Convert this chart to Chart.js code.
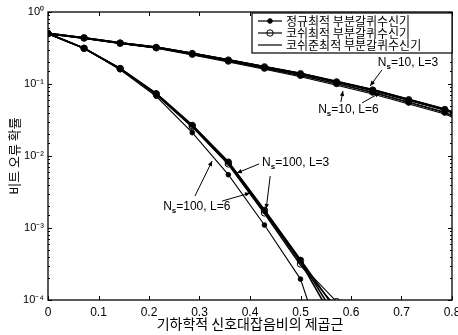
<!DOCTYPE html>
<html><head><meta charset="utf-8">
<script src="https://cdn.jsdelivr.net/npm/chart.js@4/dist/chart.umd.min.js"></script>
<style>html,body{margin:0;padding:0;background:#fff;}#wrap{width:458px;height:335px;}</style>
</head><body><div id="wrap"><canvas id="c" width="458" height="335"></canvas></div>
<script>
// ---- data ----
const xValues = [0, 0.0714, 0.1429, 0.2143, 0.2857, 0.3571, 0.4286, 0.5, 0.5714, 0.6429, 0.7143, 0.7857, 0.8];
const receiverNames = ['정규최적 부분갈퀴수신기', '코쉬최적 부분갈퀴수신기', '코쉬준최적 부분갈퀴수신기'];
// Ns = 10
const ns10L3Normal = [0.501, 0.437, 0.372, 0.324, 0.266, 0.216, 0.174, 0.140, 0.108, 0.0832, 0.0610, 0.0447, 0.0410];
const ns10L3Cauchy = [0.501, 0.436, 0.371, 0.322, 0.265, 0.215, 0.173, 0.139, 0.107, 0.0825, 0.0605, 0.0443, 0.0405];
const ns10L3Sub    = [0.501, 0.437, 0.372, 0.323, 0.265, 0.215, 0.173, 0.139, 0.107, 0.0820, 0.0600, 0.0440, 0.0400];
const ns10L6Normal = [0.501, 0.437, 0.367, 0.316, 0.257, 0.207, 0.164, 0.130, 0.100, 0.0759, 0.0550, 0.0398, 0.0359];
const ns10L6Cauchy = [0.501, 0.437, 0.368, 0.318, 0.259, 0.208, 0.166, 0.132, 0.1016, 0.0773, 0.0561, 0.0407, 0.0367];
const ns10L6Sub    = [0.501, 0.434, 0.365, 0.313, 0.253, 0.202, 0.160, 0.126, 0.0962, 0.0728, 0.0526, 0.0382, 0.0347];
// Ns = 100
const ns100L3Normal = [0.501, 0.313, 0.165, 0.0741, 0.0269, 0.00832, 0.00178, 3.63e-4, 7.08e-5];
const ns100L3Cauchy = [0.501, 0.313, 0.164, 0.0733, 0.0266, 0.00822, 0.00176, 3.55e-4, 5.62e-5];
const ns100L3Sub    = [0.501, 0.313, 0.162, 0.0724, 0.0260, 0.00804, 0.00170, 3.39e-4, 4.47e-5];
const ns100L6Normal = [0.501, 0.313, 0.158, 0.0676, 0.0211, 0.00550, 0.00110, 1.95e-4, 6.3e-6];
const ns100L6Cauchy = [0.501, 0.313, 0.163, 0.0724, 0.0257, 0.00776, 0.00162, 3.16e-4, 9.5e-5];
const ns100L6Sub    = [0.501, 0.313, 0.162, 0.0708, 0.0251, 0.00759, 0.00158, 3.02e-4, 7.9e-5];
const xTickLabels = ['0', '0.1', '0.2', '0.3', '0.4', '0.5', '0.6', '0.7', '0.8'];
const yTickLabels = ['10⁰', '10⁻¹', '10⁻²', '10⁻³', '10⁻⁴'];
const xTitle = '기하학적 신호대잡음비의 제곱근';
const yTitle = '비트 오류 확률';
const annotations = [
  { text: ['N', 's', '=10, L=3'], at: [0.653, 0.196], arrows: [[[0.661, 0.156], [0.638, 0.094]]] },
  { text: ['N', 's', '=10, L=6'], at: [0.535, 0.0435], arrows: [[[0.580, 0.0562], [0.584, 0.080]], [[0.622, 0.0547], [0.657, 0.075]]] },
  { text: ['N', 's', '=100, L=3'], at: [0.424, 0.0080], arrows: [[[0.418, 0.00776], [0.374, 0.0058]], [[0.440, 0.00527], [0.432, 0.00184]]] },
  { text: ['N', 's', '=100, L=6'], at: [0.228, 0.00196], arrows: [[[0.291, 0.00278], [0.325, 0.00853]], [[0.345, 0.00237], [0.400, 0.00306]]] }
];

// ---- styles ----
const styles = [
  { pointRadius: 2.3, pointBackgroundColor: '#000', pointBorderColor: '#000' },
  { pointRadius: 3.2, pointBackgroundColor: 'rgba(0,0,0,0)', pointBorderColor: '#000' },
  { pointRadius: 0, pointBackgroundColor: '#000', pointBorderColor: '#000' }
];
function mk(values, kind, width) {
  const pts = [];
  values.forEach((v, i) => { if (v !== null && v !== undefined) pts.push({ x: xValues[i], y: v }); });
  const s = styles[kind];
  return {
    label: receiverNames[kind], data: pts, kind: kind,
    borderColor: '#000', borderWidth: width, tension: 0, fill: false,
    pointStyle: 'circle', pointBorderWidth: 1,
    pointRadius: ctx => (ctx.raw && ctx.raw.x > 0.79 ? 0 : s.pointRadius),
    pointHoverRadius: 0,
    pointBackgroundColor: s.pointBackgroundColor, pointBorderColor: s.pointBorderColor
  };
}
const datasets = [
  mk(ns10L3Normal, 0, 2), mk(ns10L3Cauchy, 1, 2), mk(ns10L3Sub, 2, 2),
  mk(ns10L6Normal, 0, 1.1), mk(ns10L6Cauchy, 1, 1.1), mk(ns10L6Sub, 2, 1.1),
  mk(ns100L3Normal, 0, 1.6), mk(ns100L3Cauchy, 1, 1.6), mk(ns100L3Sub, 2, 1.6),
  mk(ns100L6Normal, 0, 1.1), mk(ns100L6Cauchy, 1, 1.1), mk(ns100L6Sub, 2, 1.1)
];

// ---- plugins ----
const frame = {
  id: 'frame',
  afterDatasetsDraw(chart) {
    const { ctx, chartArea: a, scales: { x, y } } = chart;
    ctx.save();
    ctx.strokeStyle = '#000'; ctx.lineWidth = 1.3;
    ctx.strokeRect(a.left, a.top, a.right - a.left, a.bottom - a.top);
    ctx.lineWidth = 1;
    ctx.beginPath();
    x.ticks.forEach(t => {
      const px = Math.round(x.getPixelForValue(t.value)) + 0.5;
      ctx.moveTo(px, a.bottom); ctx.lineTo(px, a.bottom - 4);
      ctx.moveTo(px, a.top); ctx.lineTo(px, a.top + 4);
    });
    y.ticks.forEach(t => {
      const e = Math.log10(t.value);
      const major = Math.abs(e - Math.round(e)) < 1e-6;
      const len = major ? 4 : 2;
      const py = Math.round(y.getPixelForValue(t.value)) + 0.5;
      ctx.moveTo(a.left, py); ctx.lineTo(a.left + len, py);
      ctx.moveTo(a.right, py); ctx.lineTo(a.right - len, py);
    });
    ctx.stroke();
    ctx.restore();
  }
};

const legendBox = {
  id: 'legendBox',
  afterDraw(chart) {
    const { ctx, chartArea: a } = chart;
    const w = 200, h = 40;
    const left = a.right - w, top = a.top + 1;
    ctx.save();
    ctx.fillStyle = '#fff'; ctx.fillRect(left, top, w, h);
    ctx.strokeStyle = '#000'; ctx.lineWidth = 1.2; ctx.strokeRect(left, top, w, h);
    ctx.font = "12px 'Noto Sans CJK KR', sans-serif";
    ctx.textBaseline = 'middle'; ctx.textAlign = 'left';
    receiverNames.forEach((name, i) => {
      const cy = top + 8 + i * 12;
      ctx.strokeStyle = '#000'; ctx.lineWidth = 1.2;
      ctx.beginPath(); ctx.moveTo(left + 6, cy); ctx.lineTo(left + 30, cy); ctx.stroke();
      const s = styles[i];
      if (s.pointRadius > 0) {
        ctx.beginPath(); ctx.arc(left + 18, cy, s.pointRadius, 0, Math.PI * 2);
        if (i === 0) { ctx.fillStyle = '#000'; ctx.fill(); }
        ctx.lineWidth = 1; ctx.stroke();
      }
      ctx.fillStyle = '#000';
      ctx.fillText(name, left + 34, cy + 0.5);
    });
    ctx.restore();
  }
};

const notes = {
  id: 'notes',
  afterDraw(chart) {
    const { ctx, scales: { x, y } } = chart;
    const P = (p) => [x.getPixelForValue(p[0]), y.getPixelForValue(p[1])];
    ctx.save();
    ctx.fillStyle = '#000'; ctx.strokeStyle = '#000';
    annotations.forEach(an => {
      let [tx, ty] = P(an.at);
      ctx.textBaseline = 'middle'; ctx.textAlign = 'left';
      ctx.font = "12px 'Liberation Sans', Arial, sans-serif";
      ctx.fillText(an.text[0], tx, ty);
      tx += ctx.measureText(an.text[0]).width;
      ctx.font = "bold 8px 'Liberation Sans', Arial, sans-serif";
      ctx.fillText(an.text[1], tx, ty + 4);
      tx += ctx.measureText(an.text[1]).width;
      ctx.font = "12px 'Liberation Sans', Arial, sans-serif";
      ctx.fillText(an.text[2], tx, ty);
      an.arrows.forEach(ar => {
        const [x0, y0] = P(ar[0]); const [x1, y1] = P(ar[1]);
        ctx.lineWidth = 1;
        ctx.beginPath(); ctx.moveTo(x0, y0); ctx.lineTo(x1, y1); ctx.stroke();
        const ang = Math.atan2(y1 - y0, x1 - x0);
        const L = 5, W = 2.2;
        ctx.beginPath();
        ctx.moveTo(x1, y1);
        ctx.lineTo(x1 - L * Math.cos(ang) + W * Math.sin(ang), y1 - L * Math.sin(ang) - W * Math.cos(ang));
        ctx.lineTo(x1 - L * Math.cos(ang) - W * Math.sin(ang), y1 - L * Math.sin(ang) + W * Math.cos(ang));
        ctx.closePath(); ctx.fill();
      });
    });
    ctx.restore();
  }
};

new Chart(document.getElementById('c'), {
  type: 'line',
  data: { datasets },
  options: {
    responsive: false, animation: false, devicePixelRatio: 1,
    layout: { padding: { top: 12, right: 6, left: 0, bottom: 0 } },
    plugins: { legend: { display: false }, tooltip: { enabled: false } },
    scales: {
      x: {
        type: 'linear', min: 0, max: 0.8,
        grid: { display: false, drawTicks: false }, border: { display: false },
        ticks: { stepSize: 0.1, autoSkip: false, maxRotation: 0, padding: 5, color: '#000',
          font: { family: "'Liberation Sans', Arial, sans-serif", size: 12 },
          callback: (v, i) => xTickLabels[i] },
        title: { display: true, text: xTitle, color: '#000', padding: { top: 0, bottom: 3 },
          font: { family: "'Noto Sans CJK KR', sans-serif", size: 14 } },
        afterFit: s => { s.height = 35; s.paddingRight = 0; s.paddingLeft = 0; }
      },
      y: {
        type: 'logarithmic', min: 1e-4, max: 1,
        grid: { display: false, drawTicks: false }, border: { display: false },
        ticks: { autoSkip: false, padding: 4, color: '#000',
          font: { family: "'Liberation Sans', Arial, sans-serif", size: 11 },
          callback: (v) => {
            const e = Math.log10(v);
            if (Math.abs(e - Math.round(e)) < 1e-6) return yTickLabels[-Math.round(e)];
            return '';
          } },
        title: { display: true, text: yTitle, color: '#000', padding: { top: 6, bottom: 0 },
          font: { family: "'Noto Sans CJK KR', sans-serif", size: 13 } },
        afterFit: s => { s.width = 48; s.paddingTop = 0; s.paddingBottom = 0; }
      }
    }
  },
  plugins: [frame, legendBox, notes]
});
</script></body></html>
